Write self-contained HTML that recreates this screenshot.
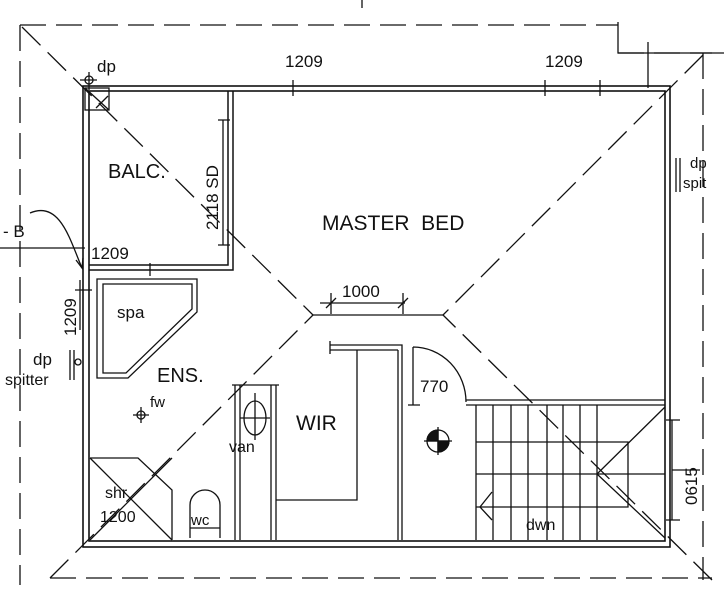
<!DOCTYPE html>
<html><head><meta charset="utf-8"><style>
html,body{margin:0;padding:0;background:#fff;}
svg{display:block;}
text{font-family:"Liberation Sans",sans-serif;fill:#111;}
</style></head><body>
<svg width="724" height="600" viewBox="0 0 724 600" xmlns="http://www.w3.org/2000/svg">
<g fill="none" stroke="#111" stroke-width="1.3">
<!-- dashed roof outline -->
<g stroke-dasharray="26,10">
<path d="M20 25 H618"/>
<path d="M618 53 H712"/>
<path d="M20 25 V585"/>
<path d="M50 578 H712"/>
<path d="M703 53 V580"/>
<!-- hips -->
<path d="M22 27 L313 315"/>
<path d="M703 55 L443 315"/>
<path d="M50 578 L313 315"/>
<path d="M712 580 L443 315"/>
</g>
<path d="M618 22 V53 H724"/>
<path d="M362 0 V8"/>
<path d="M648 42 V88"/>
<path d="M313 315 H443"/>
<!-- outer walls -->
<g stroke-width="1.6">
<rect x="83" y="86" width="587" height="461"/>
<rect x="89" y="91" width="576" height="450"/>
</g>
<!-- balcony -->
<path d="M228 91 V265 H89" stroke-width="1.5"/>
<path d="M233 91 V270 H89" stroke-width="1.5"/>
<path d="M223 120 V245" /><path d="M218 120 H230 M218 245 H230"/>
<rect x="85" y="88" width="24" height="22"/>
<path d="M85 88 L109 110 M96 108 L108 96"/>
<circle cx="89" cy="80" r="4"/><path d="M89 72 V90 M80 80 H97"/>
<!-- dim ticks top -->
<path d="M293 80 V96 M545 80 V96 M600 80 V96 M150 263 V276"/>
<!-- spa -->
<path d="M97 279 H197 V312 L128 378 H97 Z"/>
<path d="M103 284 H192 V309 L126 373 H103 Z"/>
<!-- ENS dims -->
<path d="M80 280 V330 M75 290 H92"/>
<path d="M70 350 V380 M74 350 V380"/>
<circle cx="78" cy="362" r="3"/>
<!-- fw -->
<circle cx="141" cy="415" r="4"/><path d="M133 415 H149 M141 407 V423"/>
<!-- shower -->
<path d="M90 458 H138 L172 490 V540"/>
<path d="M90 458 L172 540 M172 458 L90 540"/>
<!-- wc -->
<path d="M190 538 V505 A15 15 0 0 1 220 505 V538 M190 528 H220"/>
<!-- vanity -->
<path d="M235 385 V540 M240 385 V540 M271 385 V540 M276 385 V540 M232 385 H279"/>
<ellipse cx="255" cy="418" rx="11" ry="17"/>
<path d="M255 393 V440 M240 418 H270"/>
<!-- WIR -->
<path d="M330 345 H402 V540 M330 350 H398 M357 350 V500 H276 M398 350 V540"/>
<path d="M330 341 V354"/>
<!-- dim 1000 -->
<path d="M320 303 H405 M331 293 V314 M403 293 V314 M326 308 L336 298 M398 308 L408 298"/>
<!-- door -->
<path d="M413 347 V405 M408 405 H420 M413 347 A53 55 0 0 1 466 402"/>
<!-- stair -->
<path d="M466 400 H665 M466 405 H665"/>
<path d="M476 405 V540 M493 405 V540 M511 405 V540 M528 405 V540 M547 405 V540 M563 405 V540 M580 405 V540 M597 405 V540"/>
<path d="M476 442 H628 V507 H476 M476 474 H665"/>
<path d="M665 407 L597 474 L665 538"/>
<path d="M492 492 L480 507 L492 520"/>
<!-- right dims -->
<path d="M672 420 V520 M666 420 H680 M666 520 H680 M672 470 H700"/>
<path d="M676 158 V192 M680 158 V192"/>
<!-- cross circle -->
<circle cx="438" cy="441" r="11"/><path d="M424 441 H452 M438 427 V455"/>
<path d="M438 441 V430 A11 11 0 0 0 427 441 Z M438 441 V452 A11 11 0 0 0 449 441 Z" fill="#111"/>
<!-- arrow B -->
<path d="M30 213 C60 200 70 240 82 268"/>
<path d="M76 260 L82 268 L83 258" />
<path d="M0 248 H85"/>
</g>
<g font-size="17">
<text x="97" y="72">dp</text>
<text x="285" y="67">1209</text>
<text x="545" y="67">1209</text>
<text x="108" y="178" font-size="20">BALC.</text>
<text x="322" y="230" font-size="21">MASTER&#160;&#160;BED</text>
<text x="91" y="259">1209</text>
<text x="3" y="237">- B</text>
<text x="117" y="318">spa</text>
<text x="157" y="382" font-size="20">ENS.</text>
<text x="33" y="365">dp</text>
<text x="5" y="385" font-size="16">spitter</text>
<text x="150" y="407" font-size="15">fw</text>
<text x="296" y="430" font-size="21">WIR</text>
<text x="229" y="452" font-size="16">van</text>
<text x="105" y="498" font-size="16">shr</text>
<text x="100" y="522" font-size="16">1200</text>
<text x="191" y="525" font-size="15">wc</text>
<text x="342" y="297">1000</text>
<text x="420" y="392">770</text>
<text x="526" y="530" font-size="16">dwn</text>
<text x="690" y="168" font-size="15">dp</text>
<text x="683" y="188" font-size="15">spit</text>
<text transform="translate(218,230) rotate(-90)">2118 SD</text>
<text transform="translate(76,336) rotate(-90)">1209</text>
<text transform="translate(697,505) rotate(-90)">0615</text>
</g>
</svg>
</body></html>
